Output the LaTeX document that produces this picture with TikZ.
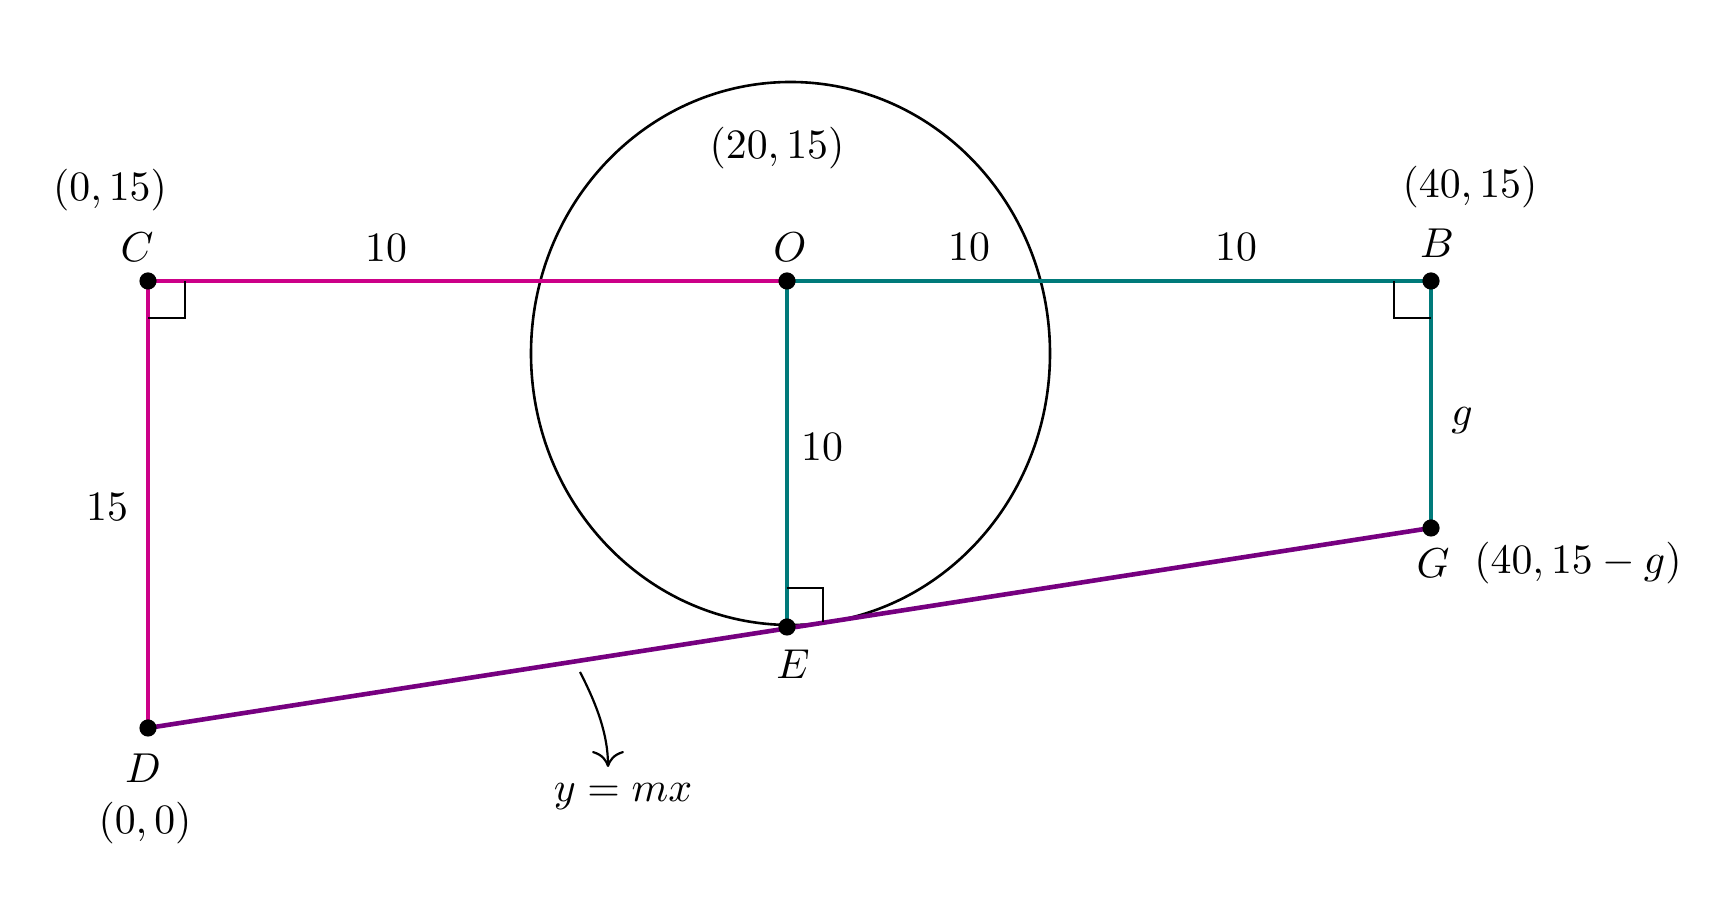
\documentclass[tikz,border=0pt]{standalone}
\usepackage{graphicx}
\usetikzlibrary{arrows.meta}
\definecolor{pinkc}{RGB}{204,0,136}
\definecolor{tealc}{RGB}{0,122,122}
\definecolor{purplec}{RGB}{118,0,128}
\newcommand{\lbltxt}[1]{\scalebox{1.045}{#1}}
\tikzset{
  dotpt/.style={circle,fill=black,inner sep=0pt,minimum size=4.3pt},
  seg/.style={line width=1.15pt},
  rmark/.style={line width=0.5pt},
  lbl/.style={inner sep=0pt,anchor=center}
}
\begin{document}
\begin{tikzpicture}[x=0.25pt,y=-0.25pt]
\useasboundingbox (0,0) rectangle (1714,918);
% points
\coordinate (Cp) at (148,281);
\coordinate (Op) at (787,281);
\coordinate (Bp) at (1431,281);
\coordinate (Ep) at (787,627);
\coordinate (Dp) at (148,728);
\coordinate (Gp) at (1431,528);
% circle
\draw[line width=0.65pt] (790.5,353.5) ellipse [x radius=259.5, y radius=271.5];
% segments
\draw[seg,pinkc] (Cp) -- (Op);
\draw[seg,pinkc] (Cp) -- (Dp);
\draw[seg,tealc] (Op) -- (Bp);
\draw[seg,tealc] (Op) -- (Ep);
\draw[seg,tealc] (Bp) -- (Gp);
\draw[seg,purplec] (Dp) -- (Gp);
% right angle marks
\draw[rmark] (185,281) -- (185,318) -- (148,318);
\draw[rmark] (1394,281) -- (1394,318) -- (1431,318);
\draw[rmark] (787,588) -- (823,588) -- (823,622);
% dots
\node[dotpt] (C) at (Cp) {};
\node[dotpt] (O) at (Op) {};
\node[dotpt] (B) at (Bp) {};
\node[dotpt] (E) at (Ep) {};
\node[dotpt] (D) at (Dp) {};
\node[dotpt] (G) at (Gp) {};
% arrow
\coordinate (as) at (580,672);
\node[lbl] (ymx) at (623,797) {\lbltxt{$y = mx$}};
\coordinate (ae) at (608,767);
\draw[line width=0.55pt,-{To[length=4pt,width=8pt]}] (as) .. controls (597,705) and (608,735) .. (ae);
% labels
\node[lbl] (lC) at (137,247) {\lbltxt{$C$}};
\node[lbl] (cC) at (110,190) {\lbltxt{$(0,15)$}};
\node[lbl] (l10a) at (386,248) {\lbltxt{$10$}};
\node[lbl] (cO) at (777,148) {\lbltxt{$(20,15)$}};
\node[lbl] (lO) at (790,247) {\lbltxt{$O$}};
\node[lbl] (l10b) at (969,247) {\lbltxt{$10$}};
\node[lbl] (l10c) at (1236,247) {\lbltxt{$10$}};
\node[lbl] (lB) at (1437,243) {\lbltxt{$B$}};
\node[lbl] (cB) at (1470,187) {\lbltxt{$(40,15)$}};
\node[lbl] (lg) at (1462,421) {\lbltxt{$g$}};
\node[lbl] (l15) at (107,507) {\lbltxt{$15$}};
\node[lbl] (l10d) at (822,447) {\lbltxt{$10$}};
\node[lbl] (lG) at (1433,563) {\lbltxt{$G$}};
\node[lbl] (cG) at (1578,563) {\lbltxt{$(40,15-g)$}};
\node[lbl] (lE) at (793,664) {\lbltxt{$E$}};
\node[lbl] (lD) at (143,768) {\lbltxt{$D$}};
\node[lbl] (cD) at (145,823) {\lbltxt{$(0,0)$}};
\end{tikzpicture}
\end{document}
